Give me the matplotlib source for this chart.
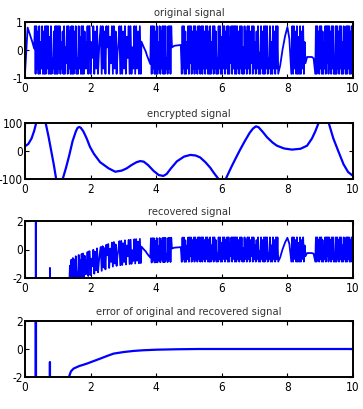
"""
Chaotic encryption demo: original, encrypted, recovered signal and the error.
Values read off the reference figure by eye.
"""
import numpy as np
import matplotlib
matplotlib.use("Agg")
import matplotlib.pyplot as plt
from matplotlib import font_manager

# narrow font if there is one (the reference text is tall and condensed)
fonts = font_manager.fontManager.ttflist
names = set(f.name for f in fonts)
if "Liberation Sans Narrow" in names:
    plt.rcParams['font.family'] = ['Liberation Sans Narrow', 'DejaVu Sans']
    TICK_SIZE, TITLE_SIZE = 9.5, 9
elif any(f.name == "DejaVu Sans" and f.stretch == "condensed" for f in fonts):
    plt.rcParams['font.family'] = ['DejaVu Sans']
    plt.rcParams['font.stretch'] = 'condensed'
    TICK_SIZE, TITLE_SIZE = 8.5, 8
else:
    plt.rcParams['font.family'] = ['Liberation Sans', 'DejaVu Sans']
    TICK_SIZE, TITLE_SIZE = 8.5, 8
plt.rcParams['axes.unicode_minus'] = False  # short dash, keeps -100 inside

# ---- original signal ----
# slow stretches are given as (t, v); the dense chaotic blocks as a string
# of turning-point levels, '0' = -0.85 ... '9' = +0.85
orig_start_t = [0.0, 0.08, 0.15, 0.22, 0.28]
orig_start_v = [-0.85, 0.8, 0.55, 0.3, 0.05]

block1_span = (0.30, 1.95)
block1_lv = ("90918090619080909190709031809090919061809052909180909081"
             "9030917090908161909")
block2_span = (1.97, 3.53)
block2_lv = "90639081904790918095907290918046909081907390905190918090"
slow1_t = [3.55, 3.62, 3.68, 3.72, 3.77, 3.82]
slow1_v = [0.3, 0.1, -0.05, -0.2, -0.35, -0.5]
block3_span = (3.84, 4.48)
block3_lv = "909190809061908190909130919095"
flat1_t = [4.55, 4.75]
flat1_v = [0.15, 0.18]
block4_span = (4.78, 6.4)
block4_lv = ("0919080619092908190918091903909180919080906190918030919070"
             "919081909072909190")
block5_span = (6.42, 7.72)
block5_lv = "9091809190509180919082909160819040918090919031906091809190"
slow2_t = [7.78, 7.85, 7.93, 8.0, 8.06, 8.12]
slow2_v = [-0.55, 0.0, 0.5, 0.82, 0.4, -0.85]
block6_span = (8.15, 8.55)
block6_lv = "909180907090819062"
flat2_t = [8.6, 8.75, 8.8]
flat2_v = [-0.25, -0.25, -0.3]
block7_span = (8.85, 10.0)
block7_lv = "0909180919080619092909180919030909180919060918090919080916"

# ---- encrypted signal (clipped by the axis at +-100) ----
enc_t = [0.0, 0.1, 0.2, 0.28, 0.34, 0.45, 0.5, 0.55, 0.63, 0.72, 0.8, 0.88,
         0.95, 1.05, 1.15, 1.25, 1.35, 1.45, 1.55, 1.6, 1.65, 1.7, 1.78,
         1.88, 1.98, 2.1, 2.29, 2.55, 2.75, 2.95, 3.1, 3.25, 3.4, 3.51,
         3.62, 3.75, 3.92, 4.08, 4.22, 4.32, 4.45, 4.63, 4.85, 5.04, 5.2,
         5.34, 5.5, 5.65, 5.75, 5.9, 6.0, 6.12, 6.3, 6.45, 6.56, 6.7, 6.85,
         6.95, 7.04, 7.12, 7.25, 7.38, 7.55, 7.68, 7.9, 8.14, 8.4, 8.6,
         8.75, 8.85, 8.95, 9.1, 9.26, 9.4, 9.55, 9.71, 9.85, 10.0]
enc_v = [17, 25, 45, 72, 100, 140, 150, 140, 100, 50, 0, -50,
         -100, -125, -100, -60, -15, 35, 70, 82, 86, 83, 70,
         45, 15, -10, -40, -62, -74, -70, -62, -50, -40, -36,
         -38, -50, -71, -86, -89, -82, -62, -37, -20, -14, -16,
         -23, -40, -60, -77, -100, -118, -100, -55, -20, 5, 35, 65,
         80, 88, 85, 68, 49, 30, 19, 9, 5, 8, 19,
         45, 70, 100, 135, 100, 45, 0, -47, -75, -89]

# ---- error of original and recovered signal ----
err_t = [0.0, 0.32, 0.33, 0.34, 0.74, 0.76, 0.78, 1.30, 1.34, 1.40, 1.48,
         1.65, 1.88, 2.05, 2.29, 2.50, 2.70, 3.0, 3.3, 3.6, 4.0, 4.6, 5.3,
         6.0, 8.0, 10.0]
err_v = [-30, -30, 30, -30, -30, -0.93, -30, -30, -2.0, -1.6, -1.4,
         -1.22, -1.05, -0.9, -0.69, -0.5, -0.33, -0.22, -0.14, -0.09,
         -0.05, -0.02, 0.0, 0.0, 0.0, 0.0]

# assemble the original signal
pieces = [(orig_start_t, orig_start_v), (block1_span, block1_lv),
          (block2_span, block2_lv), (slow1_t, slow1_v),
          (block3_span, block3_lv), (flat1_t, flat1_v),
          (block4_span, block4_lv), (block5_span, block5_lv),
          (slow2_t, slow2_v), (block6_span, block6_lv),
          (flat2_t, flat2_v), (block7_span, block7_lv)]
t_parts, v_parts = [], []
for tt, vals in pieces:
    if isinstance(vals, str):  # dense block: evenly spaced turning points
        vals = [(int(c) - 4.5) / 4.5 * 0.85 for c in vals]
        tt = np.linspace(tt[0], tt[1], len(vals))
    t_parts.append(np.asarray(tt, float))
    v_parts.append(np.asarray(vals, float))
orig_t = np.concatenate(t_parts)
orig_v = np.concatenate(v_parts)

# recovered = original + error, on a common time grid
t_all = np.union1d(orig_t, err_t)
rec_v = np.interp(t_all, orig_t, orig_v) + np.interp(t_all, err_t, err_v)

fig = plt.figure(figsize=(3.63, 4.09), dpi=100)
W, H = 363.0, 409.0
boxes = [(22, 78), (123, 179), (221, 278), (321, 377)]
titles = ["original signal", "encrypted signal", "recovered signal",
          "error of original and recovered signal"]
ylims = [(-1, 1), (-100, 100), (-2, 2), (-2, 2)]
yticks = [[-1, 0, 1], [-100, 0, 100], [-2, 0, 2], [-2, 0, 2]]
series = [(orig_t, orig_v, 1.3), (enc_t, enc_v, 1.6),
          (t_all, rec_v, 1.3), (err_t, err_v, 1.6)]

for (top, bot), title, yl, yt, (x, y, lw) in zip(boxes, titles, ylims,
                                                  yticks, series):
    ax = fig.add_axes([25 / W, 1 - bot / H, 328 / W, (bot - top) / H])
    ax.plot(x, y, color='#0000ff', lw=lw)
    ax.set_xlim(0, 10)
    ax.set_ylim(*yl)
    ax.set_xticks([0, 2, 4, 6, 8, 10])
    ax.set_yticks(yt)
    ax.tick_params(direction='in', top=True, right=True, length=3,
                   width=0.8, labelsize=TICK_SIZE)
    ax.tick_params(axis='y', pad=1.5)
    ax.tick_params(axis='x', pad=3)
    for s in ax.spines.values():
        s.set_linewidth(1.4)
    ax.set_title(title, fontsize=TITLE_SIZE, pad=4, color='#333333')

fig.savefig("out.png", dpi=100)
